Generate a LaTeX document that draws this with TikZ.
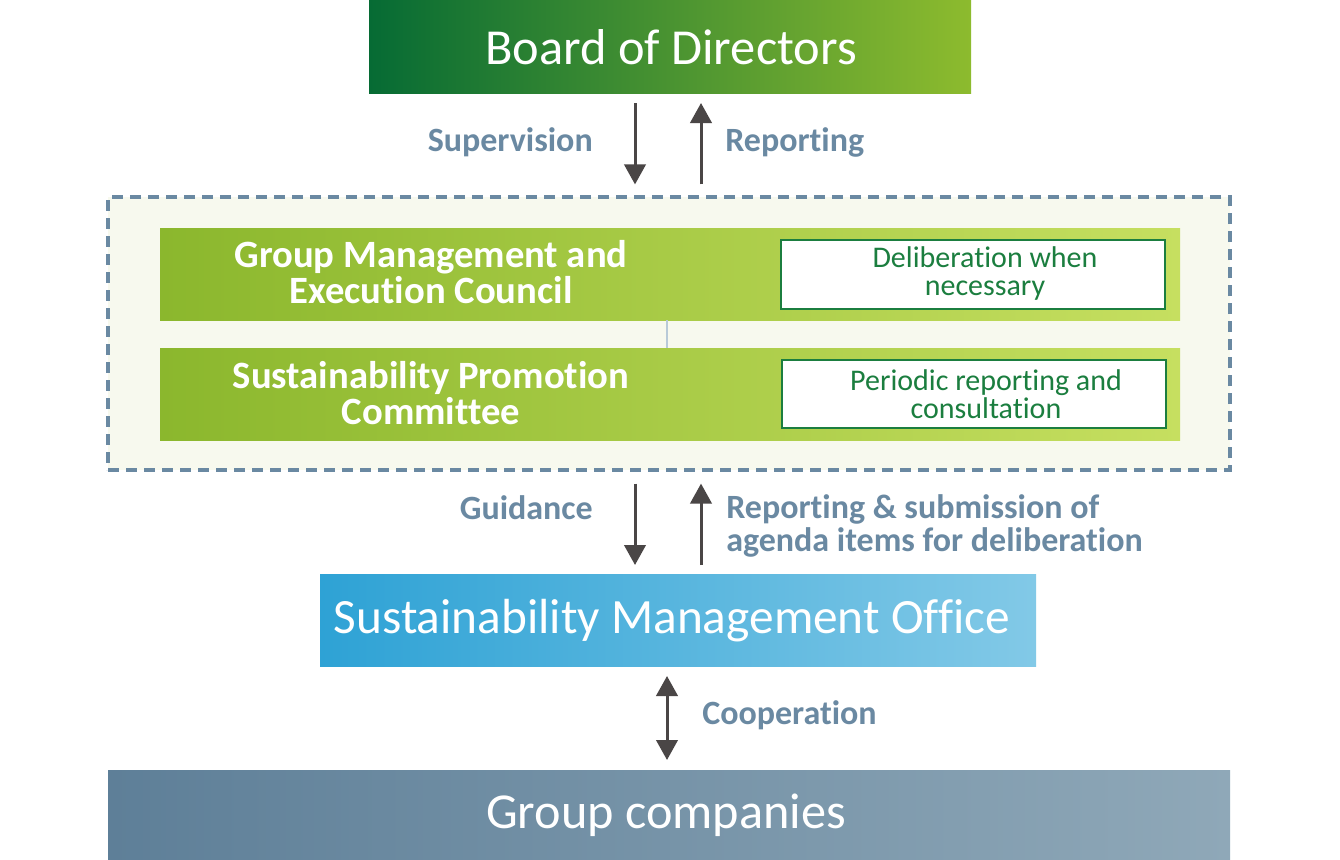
\documentclass[tikz,border=0pt]{standalone}
\usepackage{fontspec}
\setmainfont{Carlito}[Ligatures={NoCommon}]
\usetikzlibrary{arrows.meta,calc}
\definecolor{bdDark}{HTML}{066B34}
\definecolor{bdLight}{HTML}{8DBB2E}
\definecolor{gmLeft}{HTML}{8BB72D}
\definecolor{gmRight}{HTML}{C6DF60}
\definecolor{slate}{HTML}{6A89A2}
\definecolor{arrowGray}{HTML}{4A4646}
\definecolor{contFill}{HTML}{F7F9EE}
\definecolor{boxGreen}{HTML}{1B7E3F}
\definecolor{linkGray}{HTML}{B8CAD8}
\definecolor{smoLeft}{HTML}{2EA2D5}
\definecolor{smoRight}{HTML}{82C9E7}
\definecolor{gcLeft}{HTML}{5E7F98}
\definecolor{gcRight}{HTML}{8FA8B8}
\begin{document}
\begin{tikzpicture}[x=0.75pt,y=-0.75pt,
  bar/.style={draw=none,inner sep=0pt,outer sep=0pt},
  arr/.style={draw=arrowGray,line width=2.25pt,-{Triangle[width=16pt,length=15pt]}},
  darr/.style={draw=arrowGray,line width=2.25pt,{Triangle[width=16pt,length=15pt]}-{Triangle[width=16pt,length=15pt]}},
  lbl/.style={text=slate,font=\fontsize{25.5}{25}\selectfont\bfseries,inner sep=0pt},
  unitname/.style={text=white,font=\fontsize{29}{27}\selectfont\bfseries,align=center,inner sep=0pt},
  notebox/.style={draw=boxGreen,line width=1.5pt,fill=white,inner sep=0pt,minimum width=288pt,minimum height=51.5pt},
  notetext/.style={text=boxGreen,font=\fontsize{22.5}{21}\selectfont,align=center,inner sep=0pt},
  bigtext/.style={text=white,inner sep=0pt}
]
\useasboundingbox (0,0) rectangle (1340,860);
\fill[white] (0,0) rectangle (1340,860);

% Board of Directors
\node[bar,left color=bdDark,right color=bdLight,minimum width=451.5pt,minimum height=69.75pt] (board) at (670,46.5) {};
\node[bigtext,font=\fontsize{37.8}{37.8}\selectfont] (boardtxt) at (671,47) {Board of Directors};

% container
\node[draw=slate,fill=contFill,line width=2.4pt,dash pattern=on 8.5pt off 5pt,inner sep=0pt,minimum width=841.5pt,minimum height=204.75pt] (cont) at (669,333.5) {};

% GMEC and SPC bars
\node[bar,left color=gmLeft,right color=gmRight,minimum width=765pt,minimum height=69pt] (gmec) at (670,274) {};
\node[bar,left color=gmLeft,right color=gmRight,minimum width=765pt,minimum height=69pt] (spc) at (670,394) {};
\coordinate (lk) at (667,0);
\draw[linkGray,line width=1.5pt] (gmec.south -| lk) -- (spc.north -| lk);

\node[unitname] (gmectxt) at (431,272) {Group Management and\\Execution Council};
\node[unitname] (spctxt) at (431,393) {Sustainability Promotion\\Committee};

\node[notebox] (note1) at (973,274.5) {};
\node[notetext] (note1txt) at (985,273) {Deliberation when\\necessary};
\node[notebox] (note2) at (974,394) {};
\node[notetext] (note2txt) at (986,394) {Periodic reporting and\\consultation};

% SMO
\node[bar,left color=smoLeft,right color=smoRight,minimum width=537pt,minimum height=69pt] (smo) at (678,620) {};
\node[bigtext,font=\fontsize{37}{37}\selectfont] (smotxt) at (672,621) {Sustainability Management Office};

% Group companies
\node[bar,left color=gcLeft,right color=gcRight,minimum width=841.5pt,minimum height=67.5pt] (gc) at (669,815) {};
\node[bigtext,font=\fontsize{37.7}{37.7}\selectfont] (gctxt) at (666,815) {Group companies};

% arrows board <-> container
\coordinate (ax1) at (635,0);
\coordinate (ax2) at (701,0);
\draw[arr,shorten <=7.5pt,shorten >=8.25pt] (board.south -| ax1) -- (cont.north -| ax1);
\draw[arr,shorten <=8.25pt,shorten >=7.5pt] (cont.north -| ax2) -- (board.south -| ax2);
\node[lbl,anchor=east] (sup) at (593,142) {Supervision};
\node[lbl,anchor=west] (rep) at (725,142) {Reporting};

% arrows container <-> SMO
\draw[arr,shorten <=9pt,shorten >=6.75pt] (cont.south -| ax1) -- (smo.north -| ax1);
\draw[arr,shorten <=6.75pt,shorten >=9pt] (smo.north -| ax2) -- (cont.south -| ax2);
\node[lbl,anchor=east] (guid) at (593,508) {Guidance};
\node[lbl,anchor=west,align=left] (repsub) at (726,526) {Reporting \& submission of\\agenda items for deliberation};

% cooperation
\coordinate (ax3) at (667,0);
\draw[darr,shorten <=7.5pt,shorten >=7.5pt] (smo.south -| ax3) -- (gc.north -| ax3);
\node[lbl,anchor=west] (coop) at (702,715) {Cooperation};
\end{tikzpicture}
\end{document}
